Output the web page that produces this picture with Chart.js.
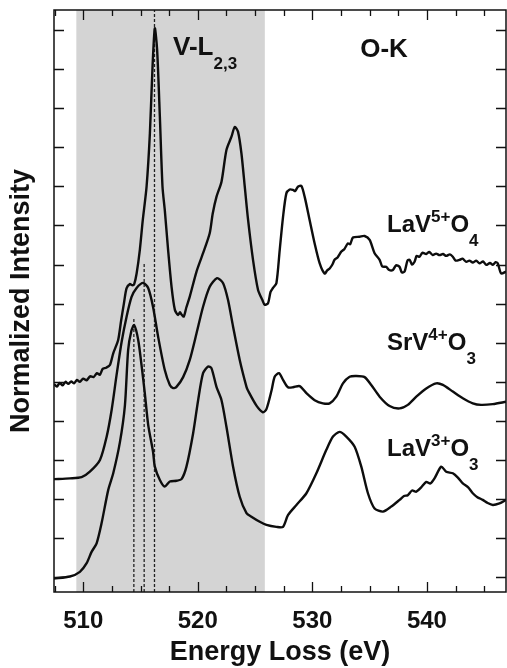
<!DOCTYPE html>
<html><head><meta charset="utf-8">
<script src="https://cdn.jsdelivr.net/npm/chart.js@4.4.0/dist/chart.umd.min.js"></script>
<style>html,body{margin:0;padding:0;background:#fff;}canvas{display:block;}</style>
</head><body>
<canvas id="c" width="507" height="668"></canvas>
<script>
// ---- data ----
const energyA = [507.45,507.7,507.95,508.2,508.45,508.7,508.95,509.2,509.45,509.7,510.0,510.3,510.6,510.9,511.2,511.45,511.7,512.0,512.33,512.62,513.05,513.3,513.55,513.78,514.07,514.3,514.45,514.66,514.94,515.2,515.53,515.82,516.05,516.25,516.45,516.69,516.92,517.12,517.41,517.71,518.0,518.28,518.45,518.58,518.78,519.0,519.3,519.89,520.46,521.04,521.3,521.63,522.07,522.5,522.94,523.23,523.51,523.81,524.1,524.39,524.82,525.26,525.64,525.84,526.13,526.35,526.56,526.86,527.15,527.44,527.73,528.02,528.31,528.5,528.74,529.04,529.33,529.76,530.2,530.64,531.07,531.3,531.51,531.75,531.94,532.2,532.53,532.8,533.1,533.3,533.54,534.12,534.56,535.0,535.43,535.87,536.1,536.45,536.7,537.03,537.3,537.61,537.8,538.05,538.3,538.49,538.7,538.92,539.1,539.36,539.6,539.94,540.2,540.51,540.8,541.1,541.4,541.68,542.0,542.26,542.5,542.84,543.1,543.43,543.7,544.0,544.3,544.59,544.9,545.17,545.5,545.75,546.0,546.18,546.48,546.9];
const intensityA = [4.94,4.88,4.97,4.91,5.0,4.95,5.01,4.96,5.05,5.0,5.08,5.04,5.14,5.12,5.22,5.18,5.33,5.36,5.43,5.73,6.07,6.55,7.0,7.39,7.50,7.47,7.50,7.77,8.37,9.14,9.99,11.36,13.06,14.04,13.49,11.78,9.99,9.39,8.37,7.43,6.84,6.71,6.78,6.72,6.67,6.9,7.18,7.82,8.29,8.80,9.3,9.73,10.12,10.93,11.27,11.52,11.40,10.84,9.99,9.14,8.12,7.35,7.09,6.97,7.01,7.3,7.40,7.52,8.37,9.22,9.82,9.92,9.91,9.88,9.99,10.01,9.73,9.14,8.54,8.03,7.77,7.85,7.90,8.0,8.12,8.18,8.33,8.4,8.54,8.52,8.69,8.71,8.73,8.63,8.29,8.12,7.95,7.94,7.86,7.86,7.98,7.94,7.8,7.82,8.1,8.12,8.0,8.07,8.22,8.20,8.3,8.27,8.32,8.24,8.28,8.24,8.27,8.22,8.26,8.20,8.1,8.12,8.15,8.07,8.1,8.05,8.1,8.03,8.08,7.99,8.04,7.99,8.06,8.03,7.77,7.82];

const energyB = [507.45,508.84,509.86,510.58,511.46,512.04,512.48,512.91,513.35,513.78,514.22,514.66,515.23,515.67,516.10,516.54,517.12,517.56,517.85,518.14,518.72,519.30,519.89,520.46,521.04,521.68,522.21,522.64,523.08,523.66,524.25,524.39,525.12,525.69,525.99,526.43,526.71,527.09,527.44,527.87,528.31,528.89,529.48,530.20,530.92,531.51,532.09,532.67,533.25,533.84,534.56,535.14,535.87,536.74,537.61,538.33,539.07,539.94,540.81,541.39,542.26,543.13,544.00,544.73,545.75,546.9];
const intensityB = [2.51,2.53,2.56,2.70,3.00,3.59,4.28,5.17,6.02,6.66,7.17,7.40,7.53,7.40,6.91,6.15,5.30,4.92,4.84,4.87,5.12,5.56,6.24,6.92,7.43,7.65,7.52,7.09,6.41,5.56,4.87,4.77,4.39,4.22,4.30,4.77,5.13,5.22,5.05,4.86,4.86,4.89,4.71,4.53,4.45,4.45,4.62,4.96,5.13,5.15,5.12,4.92,4.62,4.38,4.32,4.41,4.62,4.83,4.96,4.92,4.75,4.58,4.45,4.41,4.43,4.49];

const energyC = [507.45,508.84,509.71,510.30,510.73,511.17,511.60,512.18,512.62,513.20,513.64,513.92,514.2,514.45,514.80,515.1,515.38,515.67,516.10,516.25,516.69,517.12,517.56,518.14,518.58,519.01,519.59,520.03,520.46,520.90,521.19,521.63,522.07,522.50,523.08,523.66,524.25,524.68,525.41,525.99,526.86,527.44,527.87,528.61,529.48,530.35,531.22,531.80,532.38,532.96,533.69,534.27,534.85,535.43,536.16,536.89,537.61,538.0,538.33,538.7,539.07,539.5,539.94,540.3,540.66,541.25,541.68,542.26,542.7,543.13,543.6,544.00,544.4,544.87,545.3,545.75,546.33,546.9];
const intensityC = [-0.03,0.02,0.14,0.36,0.65,0.87,1.38,2.23,2.66,3.45,4.4,5.81,6.3,6.45,6.07,5.4,4.7,3.9,3.2,2.83,2.49,2.32,2.45,2.47,2.51,2.83,3.68,4.53,5.22,5.39,5.35,4.87,4.53,3.85,2.83,2.06,1.64,1.55,1.42,1.34,1.29,1.29,1.59,1.85,2.15,2.66,3.26,3.60,3.72,3.60,3.34,2.83,2.15,1.76,1.68,1.81,1.98,2.08,2.10,2.22,2.19,2.3,2.44,2.40,2.53,2.83,2.70,2.66,2.55,2.40,2.3,2.15,2.05,1.98,1.9,1.85,1.89,1.98];

const dashEnergies = [514.42, 515.32, 516.22];
const dashTops = [6.63, 8.04, 14.51];

const shadeRange = [509.4, 525.85];
const xTicks = [507.5,510,512.5,515,517.5,520,522.5,525,527.5,530,532.5,535,537.5,540,542.5,545];
const xTickLabels = {510:'510',520:'520',530:'530',540:'540'};
const yTicks = [0,1,2,3,4,5,6,7,8,9,10,11,12,13,14];
const X_MIN = 507.45, X_MAX = 546.9, Y_MIN = -0.376, Y_MAX = 14.51;

// ---- build ----
const FONT = "'Liberation Sans', Arial, Helvetica, sans-serif";
const toPts = (xs, ys) => xs.map((x, i) => ({x, y: ys[i]}));
const curve = (label, xs, ys) => ({label, data: toPts(xs, ys), borderColor:'#0d0d0d', borderWidth:2.4,
  pointRadius:0, tension:0.25, fill:false});
const dashSets = dashEnergies.map((e, i) => ({label:'dash'+i,
  data:[{x:e,y:Y_MIN},{x:e,y:dashTops[i]}], borderColor:'#222', borderWidth:1.3,
  borderDash:[3,2], pointRadius:0, fill:false}));

function drawFormula(ctx, x, base, parts, big, small) {
  ctx.textAlign = 'left'; ctx.textBaseline = 'alphabetic';
  for (const [t, k] of parts) {
    const sz = k === 'n' ? big : small;
    ctx.font = `bold ${sz}px ${FONT}`;
    const y = k === 'sup' ? base - 10 : (k === 'sub' ? base + 14 : base);
    ctx.fillText(t, x, y);
    x += ctx.measureText(t).width;
  }
}

const decor = {
  id:'decor',
  beforeDatasetsDraw(chart) {
    const {ctx, chartArea:a, scales:{x}} = chart;
    const x0 = x.getPixelForValue(shadeRange[0]), x1 = x.getPixelForValue(shadeRange[1]);
    ctx.save(); ctx.fillStyle = 'rgb(212,212,212)';
    ctx.fillRect(x0, a.top, x1 - x0, a.bottom - a.top); ctx.restore();
  },
  afterDatasetsDraw(chart) {
    const {ctx, chartArea:a, scales:{x, y}} = chart;
    ctx.save();
    ctx.strokeStyle = '#111'; ctx.lineWidth = 1.5;
    ctx.strokeRect(a.left, a.top, a.right - a.left, a.bottom - a.top);
    ctx.lineWidth = 1.3;
    ctx.beginPath();
    for (const v of yTicks) {
      const p = Math.round(y.getPixelForValue(v)) + 0.5;
      ctx.moveTo(a.left, p); ctx.lineTo(a.left + 10, p);
      ctx.moveTo(a.right, p); ctx.lineTo(a.right - 10, p);
    }
    for (const v of xTicks) {
      const p = Math.round(x.getPixelForValue(v)) + 0.5;
      const len = (v % 10 === 0) ? 10 : 6;
      ctx.moveTo(p, a.bottom); ctx.lineTo(p, a.bottom - len);
      ctx.moveTo(p, a.top); ctx.lineTo(p, a.top + len);
    }
    ctx.stroke();
    ctx.fillStyle = '#111';
    drawFormula(ctx, 173, 55, [['V-L','n'],['2,3','sub']], 26, 17);
    ctx.font = `bold 26px ${FONT}`; ctx.textAlign = 'center'; ctx.textBaseline = 'alphabetic';
    ctx.fillText('O-K', 384, 57);
    drawFormula(ctx, 387, 232, [['LaV','n'],['5+','sup'],['O','n'],['4','sub']], 24, 17);
    drawFormula(ctx, 387, 350, [['SrV','n'],['4+','sup'],['O','n'],['3','sub']], 24, 17);
    drawFormula(ctx, 387, 456, [['LaV','n'],['3+','sup'],['O','n'],['3','sub']], 24, 17);
    ctx.restore();
  }
};

new Chart(document.getElementById('c'), {
  type:'line',
  data:{datasets:[curve('LaV5+O4', energyA, intensityA), curve('SrV4+O3', energyB, intensityB),
    curve('LaV3+O3', energyC, intensityC), ...dashSets]},
  options:{
    responsive:false, devicePixelRatio:1, animation:false,
    layout:{padding:{top:10, right:1, left:0, bottom:0}},
    plugins:{legend:{display:false}, tooltip:{enabled:false}},
    scales:{
      x:{type:'linear', min:X_MIN, max:X_MAX,
        afterBuildTicks(s){ s.ticks = xTicks.map(v => ({value:v})); },
        afterFit(s){ s.height = 76; },
        grid:{display:false, drawTicks:false}, border:{display:false},
        ticks:{autoSkip:false, maxRotation:0, minRotation:0, padding:15, color:'#111',
          font:{family:FONT, size:24, weight:'bold', lineHeight:1.2},
          callback(v){ return xTickLabels[v] || ''; }},
        title:{display:true, text:'Energy Loss (eV)', color:'#111',
          font:{family:FONT, size:27, weight:'bold', lineHeight:1}, padding:{top:0, bottom:2}}
      },
      y:{type:'linear', min:Y_MIN, max:Y_MAX,
        afterBuildTicks(s){ s.ticks = yTicks.map(v => ({value:v})); },
        afterFit(s){ s.width = 54; },
        grid:{display:false, drawTicks:false}, border:{display:false},
        ticks:{display:false},
        title:{display:true, text:'Normalized Intensity', color:'#111',
          font:{family:FONT, size:27, weight:'bold', lineHeight:1}, padding:{top:8, bottom:0}}
      }
    }
  },
  plugins:[decor]
});
</script>
</body></html>
